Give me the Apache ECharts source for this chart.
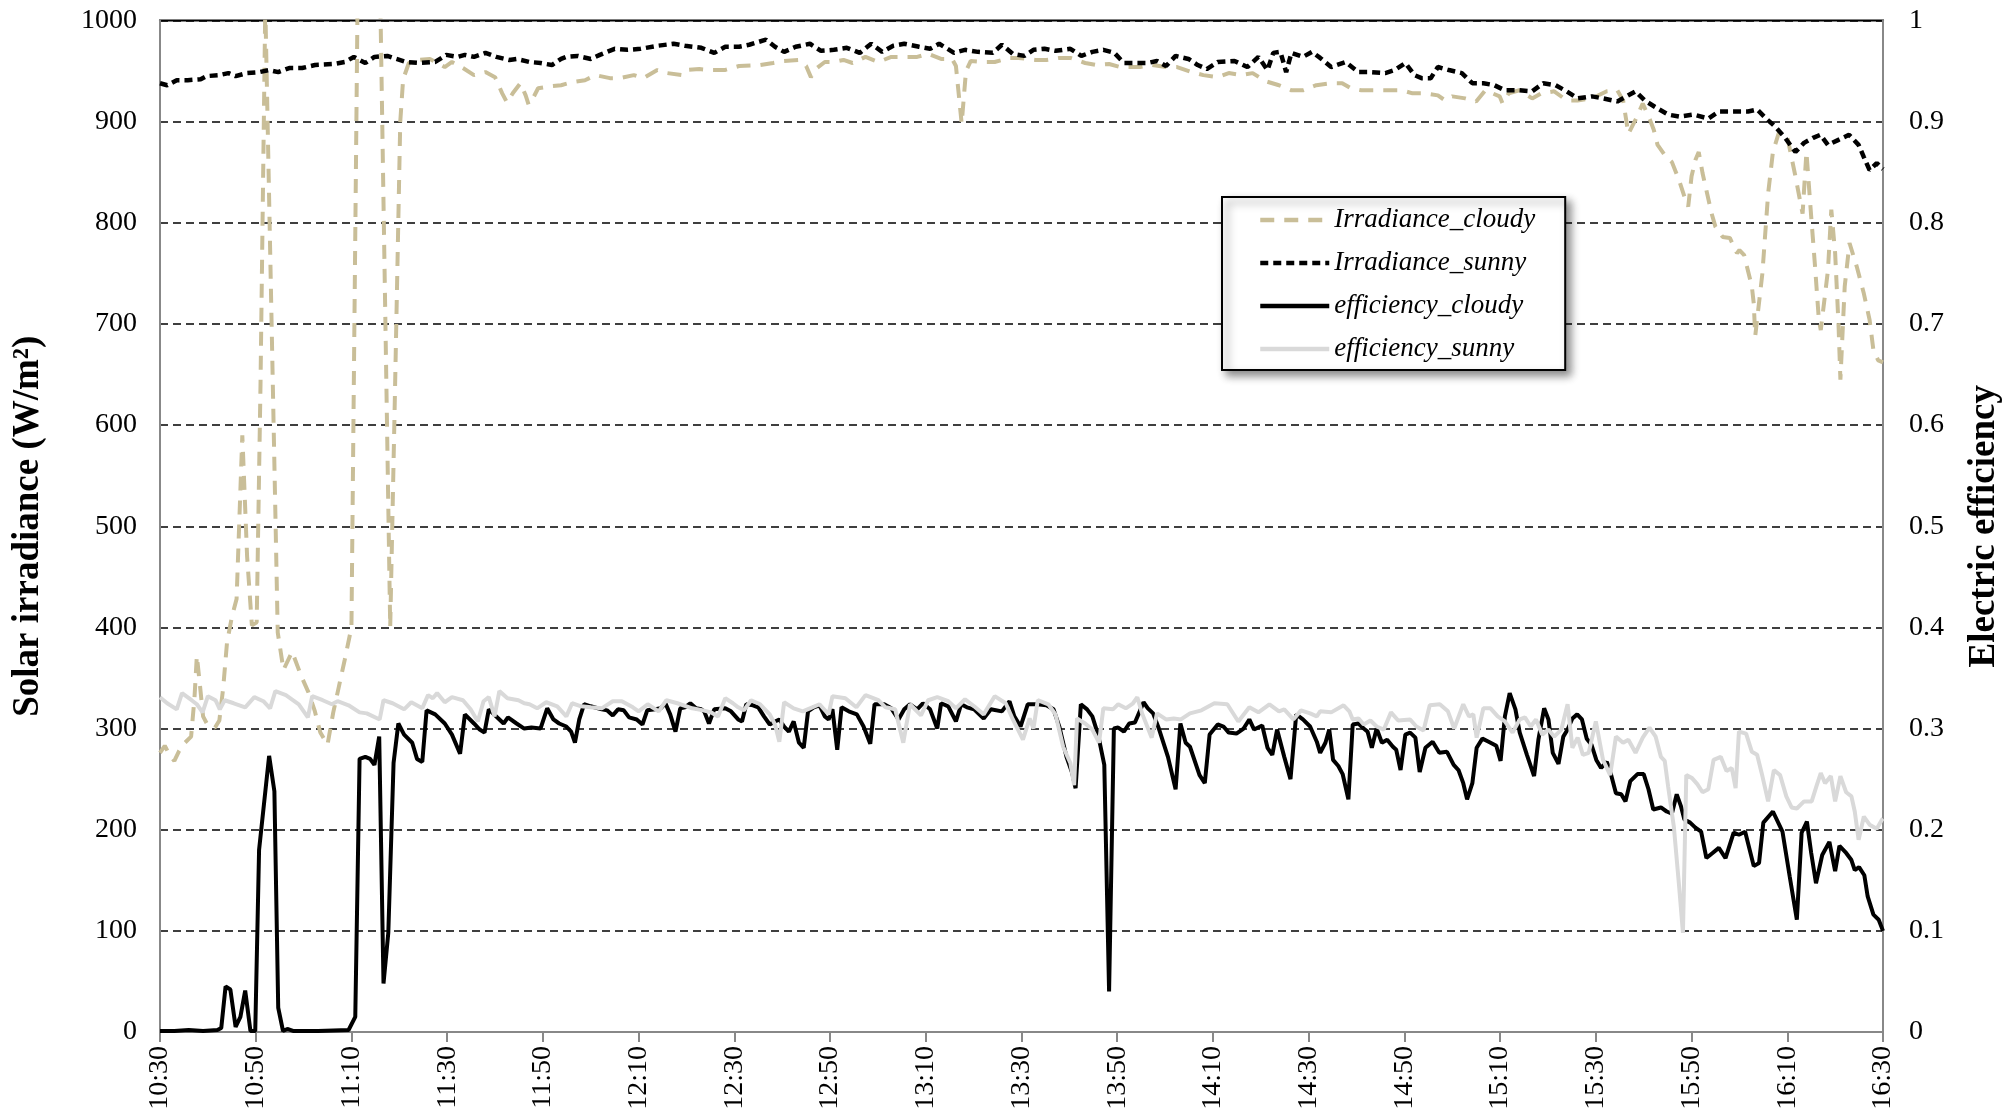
<!DOCTYPE html>
<html><head><meta charset="utf-8">
<script src="https://cdn.jsdelivr.net/npm/echarts@6/dist/echarts.min.js"></script>
<style>html,body{margin:0;padding:0;background:#fff}#c{width:2011px;height:1114px}</style>
</head><body><div id="c"></div>
<script>
// x values are minutes after 10:30
const timeLabels = ['10:30','10:50','11:10','11:30','11:50','12:10','12:30','12:50','13:10','13:30','13:50','14:10','14:30','14:50','15:10','15:30','15:50','16:10','16:30'];
const irrLabels = ['0','100','200','300','400','500','600','700','800','900','1000'];
const effLabels = ['0','0.1','0.2','0.3','0.4','0.5','0.6','0.7','0.8','0.9','1'];
const seriesNames = ['Irradiance_cloudy','Irradiance_sunny','efficiency_cloudy','efficiency_sunny'];

const irradianceCloudy = [[0,276],[1,283],[2,274],[3,268],[4,278],[5,285],[6.5,292],[7.2,330],[7.7,372],[8.3,345],[9,312],[10,303],[11.5,301],[12.4,308],[13.2,340],[14,385],[15,410],[16,428],[17.2,590],[18.2,470],[19.2,402],[20.2,405],[21,640],[22,1015],[22.4,1015],[24.6,395],[25.8,358],[27.6,376],[29.5,352],[31,336],[32.3,318],[33.5,296],[35,284],[36.2,316],[37.4,342],[38.6,368],[40,400],[41.3,1030],[46,1030],[48.1,400],[49,610],[50.2,900],[50.8,942],[52,958],[54,961],[56.4,962],[58,958],[59.5,954],[61,959],[63.3,953],[65.6,946],[68,949],[70,944],[71.5,928],[72.5,919],[73.7,928],[75.3,938],[76.4,926],[77,917],[77.6,920],[79,933],[81.5,935],[83.8,936],[86.1,939],[88.8,941],[91,946],[94,943],[96,943],[99,946],[101,943],[103.9,951],[106,948],[109,946],[110,951],[112.7,952],[115,951],[118,951],[121,955],[125.4,956],[128.1,958],[130.4,960],[133.5,961],[135,955],[136,944],[137,952],[138.9,959],[140.8,959],[142.8,961],[144.7,958],[147.4,964],[150.1,959],[152.8,964],[155.1,964],[158.2,964],[160.5,967],[163.2,962],[165.5,962],[166.3,955],[167.5,898],[168.4,950],[169.4,960],[172.1,959],[174.4,959],[177.5,963],[179.4,963],[182.9,961],[185.2,961],[187.9,963],[190.2,963],[193.3,958],[195.6,956],[198.3,957],[200.6,954],[204.8,954],[207.2,956],[210.2,954],[212.5,954],[215.6,949],[218,946],[221,944],[223.3,948],[226,946],[228.3,948],[231,940],[233.8,936],[236.4,931],[238.8,931],[241.6,936],[244.7,938],[247,938],[248.8,933],[251,931],[253.8,931],[256.4,931],[259.5,931],[261.7,928],[264.4,928],[267,926],[268.5,921],[270,925],[272.7,923],[275,920],[276.9,931],[279.9,925],[280.5,918],[281.8,928],[284,931],[286.7,923],[288.6,928],[291.3,930],[293.9,921],[296.2,921],[299.2,923],[302.3,930],[304.5,931],[305.7,921],[306.8,888],[308.3,902],[309.8,918],[311.3,902],[312.1,892],[312.9,877],[314.4,867],[315.9,860],[317.4,842],[318.5,826],[319.3,816],[320,846],[320.8,862],[321.5,870],[322.3,849],[324.2,809],[325,796],[326.5,786],[328,785],[329.5,770],[330,773],[331,768],[331.4,760],[332.6,737],[333,720],[333.3,688],[334.8,750],[336,829],[337,870],[338.3,890],[340,885],[341.7,846],[343.2,809],[344,870],[345,806],[345.8,757],[346.6,704],[347,694],[348.5,753],[349.2,813],[350,770],[350.7,700],[351.1,645],[352,737],[353,780],[354.5,757],[356,730],[357.2,704],[358,674],[359,664],[360,662]];

const irradianceSunny = [[0,938],[1.5,936],[3.5,941],[5.8,941],[8.5,942],[9.7,945],[12.4,946],[14.3,948],[15.8,945],[18.1,948],[20.8,949],[22.8,951],[24.7,949],[27,953],[29.7,953],[32.4,956],[36.3,957],[38.6,959],[40.5,964],[42.9,958],[44.8,964],[47.5,965],[49.4,962],[51.4,959],[54,958],[57.5,959],[59.8,966],[62.2,964],[63.7,966],[65.6,964],[68,968],[70.3,964],[73,961],[74.5,962],[77.2,959],[79.5,958],[81.9,956],[83.8,962],[84.9,964],[87.3,965],[90,962],[91.9,966],[95,972],[97.7,971],[100.4,972],[103.9,975],[107.3,977],[109.7,975],[113.1,973],[115.8,968],[118.1,974],[121,974],[123.1,976],[126.6,981],[128.5,974],[130.4,969],[132.8,974],[135.8,977],[138.1,970],[140.8,971],[143.5,973],[146.2,968],[148.6,977],[150.9,969],[153.2,975],[155.5,977],[158.6,974],[160.9,972],[162.8,977],[165.9,968],[168.2,971],[170.9,969],[174,968],[175.9,976],[178.2,967],[180.6,965],[182.5,971],[184.8,972],[187.1,970],[190.2,972],[192.5,965],[194.8,969],[197.1,971],[199.4,968],[201.4,958],[203.7,958],[206.4,958],[208.3,960],[210.2,955],[212.2,965],[214.9,962],[216.8,956],[218.7,952],[221,959],[224.5,960],[227.2,954],[229.5,964],[231.4,951],[232.6,968],[234.1,969],[235.3,949],[236.4,968],[238.8,964],[240.7,969],[242.4,963],[244.7,954],[247.7,959],[250.4,949],[253,949],[256,948],[258,951],[260.2,958],[262.1,946],[263.6,943],[265.5,943],[267,954],[269.3,951],[272,948],[274.2,938],[276.5,938],[278.8,936],[281,931],[284,931],[286.7,930],[289,938],[291.6,936],[293.9,930],[296.2,923],[299.2,925],[301.5,923],[304.5,920],[306.4,925],[308.3,930],[310.2,921],[312.9,913],[315.1,907],[317.4,905],[320.4,907],[323.5,903],[325.7,910],[328.8,910],[331.8,910],[333.7,912],[335.6,903],[337.5,895],[339.4,885],[341.7,870],[343.5,879],[345.4,884],[346.9,887],[348.5,877],[350.7,882],[352.9,887],[354.9,877],[356,865],[357.2,852],[358.7,859],[360,853]];

const efficiencyCloudy = [[0,0.001],[3,0.001],[6,0.002],[9,0.001],[12,0.002],[12.8,0.004],[13.7,0.045],[14.7,0.042],[15.8,0.005],[16.8,0.015],[17.8,0.041],[18.9,0.001],[19.9,0.001],[20.7,0.180],[22.8,0.273],[23.9,0.238],[24.7,0.024],[25.7,0.001],[26.6,0.003],[27.8,0.001],[33,0.001],[39.4,0.002],[40.8,0.015],[41.7,0.270],[42.9,0.272],[43.9,0.270],[44.8,0.264],[45.8,0.292],[46.7,0.048],[47.7,0.098],[48.8,0.266],[49.8,0.305],[51,0.294],[52.7,0.286],[53.7,0.270],[54.8,0.267],[55.7,0.318],[57.5,0.314],[59.5,0.305],[61,0.294],[62.7,0.275],[63.7,0.314],[65.6,0.305],[66.8,0.299],[67.8,0.296],[68.7,0.319],[70.7,0.310],[71.8,0.305],[72.7,0.311],[74.5,0.305],[76.1,0.300],[77.6,0.301],[79.5,0.300],[80.9,0.320],[82.2,0.309],[83.4,0.305],[84.9,0.302],[85.9,0.297],[86.7,0.286],[87.6,0.309],[88.6,0.324],[90,0.322],[92.3,0.319],[93.4,0.318],[94.6,0.313],[95.7,0.319],[96.9,0.318],[98,0.311],[99.6,0.309],[100.8,0.304],[101.8,0.318],[103.5,0.319],[104.6,0.320],[105.6,0.325],[106.6,0.314],[107.7,0.297],[108.7,0.320],[109.7,0.321],[110.8,0.325],[112,0.320],[113.1,0.319],[113.7,0.317],[114.7,0.305],[115.8,0.319],[118.1,0.320],[119.3,0.317],[120.8,0.309],[121.6,0.307],[122.5,0.324],[123.9,0.323],[125,0.321],[126.2,0.312],[127.4,0.304],[128.5,0.307],[129.4,0.309],[130.4,0.302],[131.4,0.297],[132.4,0.307],[133.5,0.286],[134.5,0.281],[135.4,0.317],[136.6,0.321],[137.8,0.323],[138.9,0.312],[139.7,0.309],[140.5,0.319],[141.5,0.279],[142.4,0.321],[143.9,0.317],[145.6,0.314],[147,0.302],[148.4,0.285],[149.3,0.324],[151.3,0.324],[152.8,0.320],[154.3,0.309],[155.5,0.319],[156.7,0.324],[158.2,0.319],[159.4,0.325],[160.9,0.319],[162.4,0.300],[163.2,0.325],[164.7,0.322],[166.3,0.307],[167.4,0.324],[168.6,0.321],[170.1,0.319],[172.1,0.310],[173.6,0.319],[175.9,0.317],[177.5,0.327],[178.5,0.312],[179.8,0.302],[181.3,0.324],[183.3,0.324],[185.2,0.323],[186.7,0.319],[187.9,0.302],[189.4,0.272],[190.6,0.256],[191.3,0.241],[192.4,0.324],[193.7,0.319],[194.8,0.312],[196,0.294],[197.3,0.264],[198.3,0.040],[199.3,0.300],[200.2,0.301],[201.4,0.297],[202.5,0.305],[203.7,0.306],[204.7,0.317],[205.5,0.326],[206.4,0.320],[207.5,0.315],[208.7,0.300],[210.6,0.272],[212.2,0.240],[213.2,0.305],[214.3,0.286],[215.2,0.282],[217.2,0.254],[218.3,0.246],[219.3,0.294],[221,0.304],[222.2,0.302],[223.3,0.296],[224.9,0.295],[226.4,0.300],[227.6,0.309],[228.6,0.299],[230.3,0.303],[231.4,0.281],[232.4,0.274],[233.4,0.299],[234.9,0.272],[236.2,0.250],[237.4,0.314],[238.8,0.309],[240.3,0.302],[241.7,0.287],[242.4,0.276],[243.5,0.286],[244.3,0.299],[245.1,0.269],[246.2,0.263],[247.1,0.255],[248.3,0.230],[249.2,0.304],[250.4,0.305],[251.5,0.300],[252.3,0.297],[253.2,0.281],[254.2,0.300],[255.3,0.286],[256.4,0.289],[257.6,0.282],[258.3,0.279],[259.2,0.259],[260.2,0.294],[261.2,0.296],[262.3,0.291],[263.2,0.257],[264.4,0.281],[265.9,0.287],[267.3,0.276],[268.9,0.277],[270.3,0.264],[271.3,0.259],[272.3,0.246],[273.1,0.230],[274.2,0.246],[275.1,0.281],[276.3,0.290],[277.6,0.287],[279.2,0.283],[280.1,0.268],[281,0.312],[282,0.335],[283.2,0.319],[284.1,0.296],[285.6,0.274],[287.1,0.253],[288,0.289],[289.2,0.320],[290.1,0.309],[291,0.276],[292.2,0.265],[293.2,0.292],[294.1,0.299],[295.1,0.310],[296.1,0.314],[297.1,0.309],[298.1,0.290],[299.1,0.284],[300.1,0.269],[301.1,0.261],[302.3,0.267],[303.2,0.254],[304.2,0.236],[305.3,0.235],[306.2,0.228],[307.2,0.248],[308.7,0.255],[310,0.255],[311,0.240],[312,0.220],[313.6,0.222],[314.8,0.218],[315.9,0.216],[316.9,0.235],[317.8,0.223],[318.5,0.210],[319.7,0.207],[320.8,0.202],[322,0.198],[323.1,0.172],[324.4,0.177],[325.7,0.182],[327.1,0.172],[328.8,0.197],[329.9,0.195],[331.2,0.198],[333,0.164],[334.1,0.167],[335,0.207],[337,0.218],[339,0.198],[340.5,0.154],[342,0.111],[343,0.197],[344.1,0.208],[345,0.177],[346,0.147],[347.3,0.175],[348.8,0.188],[350,0.159],[350.9,0.184],[352.3,0.177],[353.4,0.170],[354.1,0.160],[355,0.163],[356.1,0.155],[356.8,0.134],[358,0.116],[359.1,0.111],[360,0.100]];

const efficiencySunny = [[0,0.331],[1.5,0.325],[3.5,0.319],[4.6,0.335],[6.6,0.328],[7.7,0.324],[8.9,0.316],[10,0.332],[11.6,0.328],[12.5,0.319],[13.5,0.328],[15.4,0.325],[17.8,0.321],[19.7,0.331],[21.6,0.327],[23,0.320],[24.1,0.337],[26.3,0.333],[29,0.324],[30.9,0.311],[31.8,0.332],[34,0.328],[35.9,0.324],[37.1,0.327],[39.4,0.323],[41.7,0.316],[43.2,0.315],[45.9,0.309],[46.7,0.328],[48.6,0.325],[51,0.319],[52.5,0.326],[54.8,0.320],[56,0.333],[57,0.330],[57.9,0.335],[59.5,0.326],[61,0.331],[63.3,0.328],[64.9,0.319],[66.4,0.307],[67.6,0.327],[68.7,0.331],[69.9,0.312],[70.9,0.337],[72.6,0.330],[74.9,0.328],[76.1,0.325],[77.2,0.324],[78.8,0.320],[80.7,0.326],[83,0.322],[84.9,0.312],[86.1,0.325],[88,0.322],[90,0.321],[92.3,0.320],[94.6,0.327],[96.5,0.327],[98.8,0.321],[100,0.317],[101.9,0.324],[104.2,0.317],[105.8,0.328],[108.1,0.325],[111.2,0.320],[113.5,0.318],[115.1,0.316],[116.6,0.312],[118.1,0.330],[119.7,0.325],[120.8,0.321],[122,0.318],[123.5,0.328],[125.4,0.324],[127.4,0.314],[128.5,0.304],[129.4,0.287],[130.4,0.326],[132.4,0.320],[134.3,0.317],[135.8,0.320],[137.8,0.324],[139.7,0.314],[140.5,0.332],[143.2,0.330],[145.5,0.321],[147.4,0.333],[150.1,0.328],[151.6,0.321],[153.6,0.319],[155.3,0.286],[156.7,0.324],[159,0.313],[160.5,0.328],[162.4,0.331],[164.7,0.327],[166.3,0.320],[168.2,0.329],[170.1,0.322],[172.1,0.314],[174.4,0.332],[176.7,0.325],[178.2,0.309],[180.3,0.289],[181.7,0.310],[182.5,0.300],[183.4,0.328],[185.6,0.324],[187.1,0.314],[188.7,0.282],[190.2,0.266],[191,0.244],[191.6,0.310],[193.3,0.305],[194.8,0.299],[196.2,0.286],[197.1,0.320],[199.1,0.319],[200.2,0.324],[201.8,0.320],[203.3,0.325],[204.2,0.331],[205.2,0.315],[207.2,0.291],[208.3,0.315],[210.2,0.309],[211.8,0.310],[213.3,0.309],[215.2,0.315],[217.6,0.318],[220.3,0.325],[223,0.324],[225.3,0.307],[227.6,0.321],[229.5,0.316],[231.8,0.324],[233.8,0.317],[234.9,0.319],[236.8,0.309],[238.4,0.318],[240.3,0.315],[241.7,0.312],[242.4,0.317],[244.7,0.316],[247.3,0.323],[248.5,0.317],[249.2,0.309],[250.4,0.310],[251.5,0.304],[252.9,0.308],[254.2,0.302],[255.7,0.299],[257.2,0.316],[258.7,0.308],[261.2,0.309],[262.5,0.302],[264,0.298],[265.3,0.323],[267.4,0.324],[269.1,0.317],[270.4,0.300],[272.3,0.324],[273.5,0.312],[274.4,0.314],[275.1,0.291],[276.5,0.320],[278,0.320],[279.5,0.312],[281,0.307],[282.6,0.296],[284.1,0.309],[285.2,0.311],[286.4,0.302],[287.5,0.309],[288.8,0.294],[290.1,0.299],[291.3,0.292],[292.8,0.299],[294.1,0.324],[295.1,0.281],[296.2,0.291],[297.3,0.274],[298.5,0.276],[300,0.307],[301.5,0.269],[303,0.254],[304.2,0.292],[305.7,0.286],[306.8,0.289],[308.3,0.276],[309.8,0.291],[311.2,0.301],[312.5,0.292],[313.6,0.272],[314.4,0.268],[315.1,0.243],[316.3,0.203],[317.4,0.144],[318.2,0.098],[318.9,0.254],[320.1,0.251],[321.2,0.245],[322.3,0.237],[323.5,0.240],[324.6,0.269],[326.1,0.272],[327.3,0.258],[328.4,0.261],[329.2,0.241],[329.9,0.297],[331.4,0.295],[332.6,0.277],[333.7,0.274],[334.8,0.253],[336,0.228],[337.2,0.259],[338.5,0.254],[339.8,0.233],[340.9,0.222],[342,0.221],[343.5,0.228],[345.1,0.228],[346.1,0.243],[347,0.256],[347.9,0.246],[349.1,0.253],[350,0.228],[351.1,0.253],[352.3,0.237],[353.4,0.233],[354.1,0.218],[354.9,0.190],[356,0.213],[357.2,0.205],[358.7,0.201],[359.8,0.210],[360,0.211]];

const FONT = '"Liberation Serif","Times New Roman",serif';
const chart = echarts.init(document.getElementById('c'));
chart.setOption({
  animation: false,
  backgroundColor: '#fff',
  grid: { left: 160, right: 123, top: 20.5, bottom: 82, show: true, borderColor: '#000', borderWidth: 2, backgroundColor: 'transparent' },
  legend: {
    orient: 'vertical', left: 1222, top: 197,
    data: seriesNames,
    itemWidth: 69, itemHeight: 14, itemGap: 13,
    padding: [8, 30, 6, 36],
    backgroundColor: '#fff', borderColor: '#000', borderWidth: 2,
    shadowColor: 'rgba(0,0,0,0.45)', shadowBlur: 8, shadowOffsetX: 5, shadowOffsetY: 5,
    itemStyle: { opacity: 0 },
    lineStyle: { width: 4.5 },
    textStyle: { fontFamily: FONT, fontStyle: 'italic', fontSize: 27, color: '#000', lineHeight: 30 }
  },
  xAxis: {
    type: 'value', min: 0, max: 360, interval: 20,
    axisLine: { lineStyle: { color: '#888', width: 2 } },
    axisTick: { show: true, inside: false, length: 10, lineStyle: { color: '#888', width: 2 } },
    axisLabel: { rotate: 90, margin: 14, fontFamily: FONT, fontSize: 28, color: '#000', showMinLabel: true, showMaxLabel: true,
      formatter: v => timeLabels[Math.round(v / 20)] },
    splitLine: { show: false }
  },
  yAxis: [
    { type: 'value', min: 0, max: 1000, interval: 100, position: 'left',
      axisLine: { show: true, lineStyle: { color: '#888', width: 2 } },
      axisTick: { show: false },
      axisLabel: { fontFamily: FONT, fontSize: 28, color: '#000', margin: 23,
        formatter: v => irrLabels[Math.round(v / 100)] },
      splitLine: { show: true, lineStyle: { color: '#000', width: 1.5, type: [8, 5] } },
      name: 'Solar irradiance (W/m²)', nameLocation: 'middle', nameRotate: 90, nameGap: 113,
      nameTextStyle: { fontFamily: FONT, fontWeight: 'bold', fontSize: 37, color: '#000' } },
    { type: 'value', min: 0, max: 1, interval: 0.1, position: 'right',
      axisLine: { show: true, lineStyle: { color: '#888', width: 2 } },
      axisTick: { show: false },
      axisLabel: { fontFamily: FONT, fontSize: 28, color: '#000', margin: 26,
        formatter: v => effLabels[Math.round(v * 10)] },
      splitLine: { show: false },
      name: 'Electric efficiency', nameLocation: 'middle', nameRotate: 90, nameGap: 83,
      nameTextStyle: { fontFamily: FONT, fontWeight: 'bold', fontSize: 37, color: '#000' } }
  ],
  series: [
    { name: seriesNames[0], type: 'line', yAxisIndex: 0, data: irradianceCloudy, symbol: 'none',
      lineStyle: { color: '#c9be98', width: 4, type: [14, 10] }, itemStyle: { color: '#c9be98' } },
    { name: seriesNames[1], type: 'line', yAxisIndex: 0, data: irradianceSunny, symbol: 'none',
      lineStyle: { color: '#000', width: 4.5, type: [8, 5] }, itemStyle: { color: '#000' } },
    { name: seriesNames[2], type: 'line', yAxisIndex: 1, data: efficiencyCloudy, symbol: 'none',
      lineStyle: { color: '#000', width: 4 }, itemStyle: { color: '#000' } },
    { name: seriesNames[3], type: 'line', yAxisIndex: 1, data: efficiencySunny, symbol: 'none',
      lineStyle: { color: '#d9d9d9', width: 4 }, itemStyle: { color: '#d9d9d9' } }
  ]
});
</script>
</body></html>
